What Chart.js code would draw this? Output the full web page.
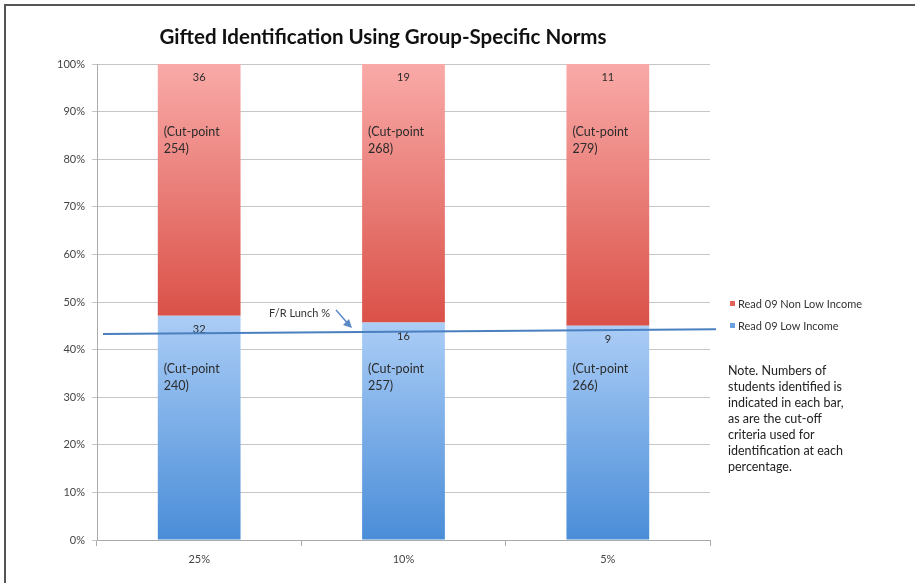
<!DOCTYPE html>
<html>
<head>
<meta charset="utf-8">
<script src="https://cdn.jsdelivr.net/npm/chart.js@4/dist/chart.umd.min.js"></script>
<style>
  html, body { margin: 0; padding: 0; background: #fff; }
  #wrap { width: 915px; height: 583px; position: relative; }
</style>
</head>
<body>
<div id="wrap"><canvas id="chart" width="915" height="583"></canvas></div>
<script>
// values
const categories = ['25%', '10%', '5%'];
const lowIncomePct = [47.1, 45.7, 45.0];
const nonLowIncomePct = [52.9, 54.3, 55.0];
const lowIncomeCount = ['32', '16', '9'];
const nonLowIncomeCount = ['36', '19', '11'];
const lowCutPoints = ['240', '257', '266'];
const nonLowCutPoints = ['254', '268', '279'];
const frLunchLine = [43.3, 44.3]; // start / end of the F/R Lunch % line
const noteLines = [
    'Note. Numbers of',
    'students identified is',
    'indicated in each bar,',
    'as are the cut-off',
    'criteria used for',
    'identification at each',
    'percentage.'
];

const FONT = 'Lato, "Open Sans", sans-serif';

function segGradient(light, dark) {
    return function(ctx) {
        const chart = ctx.chart;
        if (!chart.chartArea) return dark;
        const y = chart.scales.y;
        const i = ctx.dataIndex;
        let top, bottom;
        if (ctx.datasetIndex === 0) {
            top = y.getPixelForValue(lowIncomePct[i]);
            bottom = y.getPixelForValue(0);
        } else {
            top = y.getPixelForValue(lowIncomePct[i] + nonLowIncomePct[i]);
            bottom = y.getPixelForValue(lowIncomePct[i]);
        }
        const g = chart.ctx.createLinearGradient(0, top, 0, bottom);
        g.addColorStop(0, light);
        g.addColorStop(1, dark);
        return g;
    };
}

const extras = {
    id: 'extras',
    afterDatasetsDraw(chart) {
        const c = chart.ctx;
        const y = chart.scales.y;
        const area = chart.chartArea;
        const lowBars = chart.getDatasetMeta(0).data;
        const highBars = chart.getDatasetMeta(1).data;
        const lowCutY = y.getPixelForValue(36);
        c.save();
        c.fillStyle = '#2b2b2b';
        c.textBaseline = 'middle';
        lowBars.forEach(function(bar, i) {
            const hi = highBars[i];
            const left = bar.x - bar.width / 2 + 6;
            c.font = '11px ' + FONT;
            c.textAlign = 'center';
            c.fillText(nonLowIncomeCount[i], hi.x, hi.y + 13);
            c.fillText(lowIncomeCount[i], bar.x, bar.y + 14);
            c.font = '12.5px ' + FONT;
            c.textAlign = 'left';
            c.fillText('(Cut-point', left, hi.y + 68);
            c.fillText(nonLowCutPoints[i] + ')', left, hi.y + 85);
            c.fillText('(Cut-point', left, lowCutY);
            c.fillText(lowCutPoints[i] + ')', left, lowCutY + 17);
        });

        // F/R Lunch % line
        const x0 = area.left + 6, x1 = area.right + 6;
        const y0 = y.getPixelForValue(frLunchLine[0]);
        const y1 = y.getPixelForValue(frLunchLine[1]);
        c.strokeStyle = '#4a7fc0';
        c.lineWidth = 2;
        c.beginPath();
        c.moveTo(x0, y0);
        c.lineTo(x1, y1);
        c.stroke();

        // annotation text + arrow
        c.font = '11px ' + FONT;
        c.fillStyle = '#333';
        c.textAlign = 'left';
        c.fillText('F/R Lunch %', 269, 313);
        c.strokeStyle = '#5a8ac6';
        c.lineWidth = 1.5;
        c.beginPath();
        c.moveTo(336, 310);
        c.lineTo(350, 326);
        c.stroke();
        c.fillStyle = '#5a8ac6';
        c.beginPath();
        c.moveTo(352, 328);
        c.lineTo(343, 325);
        c.lineTo(349, 319);
        c.closePath();
        c.fill();
        c.restore();
    },
    afterDraw(chart) {
        const c = chart.ctx;
        c.save();
        // title
        c.fillStyle = '#111';
        c.font = 'bold 20.5px ' + FONT;
        c.textAlign = 'center';
        c.textBaseline = 'middle';
        c.fillText('Gifted Identification Using Group-Specific Norms', 383, 37);

        // legend
        c.font = '11px ' + FONT;
        c.textAlign = 'left';
        c.fillStyle = '#e0625b';
        c.fillRect(730, 301, 5, 5);
        c.fillStyle = '#6a9fe0';
        c.fillRect(730, 323, 5, 5);
        c.fillStyle = '#333';
        c.fillText('Read 09 Non Low Income', 738, 304);
        c.fillText('Read 09 Low Income', 738, 326);

        // note
        c.font = '12.5px ' + FONT;
        c.fillStyle = '#222';
        noteLines.forEach(function(t, i) {
            c.fillText(t, 728, 371 + i * 16);
        });

        // frame
        c.strokeStyle = '#555';
        c.lineWidth = 2;
        c.beginPath();
        c.moveTo(915, 5);
        c.lineTo(5, 5);
        c.lineTo(5, 583);
        c.stroke();
        c.restore();
    }
};

window.onload = function() {
    const ctx = document.getElementById('chart').getContext('2d');
    new Chart(ctx, {
        type: 'bar',
        data: {
            labels: categories,
            datasets: [{
                label: 'Read 09 Low Income',
                data: lowIncomePct,
                backgroundColor: segGradient('#abcdf6', '#4a8dd8'),
                borderWidth: 0
            }, {
                label: 'Read 09 Non Low Income',
                data: nonLowIncomePct,
                backgroundColor: segGradient('#f9aaa8', '#da5148'),
                borderWidth: 0
            }]
        },
        options: {
            responsive: false,
            animation: false,
            categoryPercentage: 1,
            barPercentage: 0.405,
            layout: { padding: { left: 0, top: 64, right: 205, bottom: 0 } },
            plugins: {
                legend: { display: false },
                title: { display: false },
                tooltip: { enabled: false }
            },
            scales: {
                x: {
                    stacked: true,
                    grid: { offset: true, drawOnChartArea: false, tickLength: 6, color: '#aaa' },
                    border: { color: '#aaa' },
                    ticks: { font: { family: FONT, size: 11 }, color: '#444', padding: 7 },
                    afterFit: function(s) { s.height = 43; }
                },
                y: {
                    stacked: true,
                    min: 0,
                    max: 100,
                    ticks: {
                        stepSize: 10,
                        font: { family: FONT, size: 11 },
                        color: '#444',
                        padding: 7,
                        callback: function(v) { return v + '%'; }
                    },
                    grid: { color: '#c6c6c6', tickLength: 5 },
                    border: { color: '#aaa' },
                    afterFit: function(s) { s.width = 97; }
                }
            }
        },
        plugins: [extras]
    });
};
</script>
</body>
</html>
